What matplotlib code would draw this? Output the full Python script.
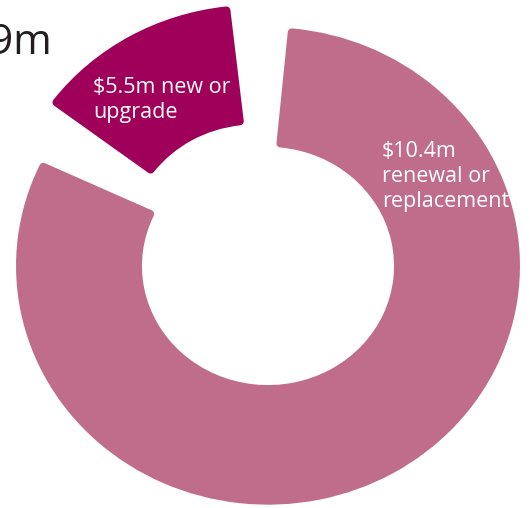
import matplotlib
matplotlib.use("Agg")
import matplotlib.pyplot as plt

# ---- data ----
categories = ["new or upgrade", "renewal or replacement"]
amounts_m = [5.5, 10.4]                  # $ millions, as labelled
arc_degrees = [58.5, 301.5]              # arc each slice occupies in the picture
explode = [0.108, 0.0]
colors = ["#9f005a", "#c06d8c"]
total_label = "$15.9m"

labels = [f"${amounts_m[0]}m new or\nupgrade",
          f"${amounts_m[1]}m\nrenewal or\nreplacement"]

plt.rcParams['font.family'] = ['Open Sans', 'DejaVu Sans']

fig = plt.figure(figsize=(5.30, 5.08), dpi=100)
ax = fig.add_axes([0, 0, 1, 1])

wedges, _ = ax.pie(arc_degrees, explode=explode, colors=colors,
                   startangle=90.5, counterclock=True, radius=1.0,
                   wedgeprops=dict(width=0.5, linewidth=0))

# angular gaps between the slices and rounded corners
gap_half = 5.0
round_px = 8
shrink = 0.016
for w, c in zip(wedges, colors):
    w.set_theta1(w.theta1 + gap_half + 1.0)
    w.set_theta2(w.theta2 - gap_half - 1.0)
    w.set_radius(1.0 - shrink)
    w.set_width(0.5 - 2 * shrink)
    w.set_edgecolor(c)
    w.set_linewidth(round_px * 72 / 100)
    w.set_joinstyle('round')

ax.set_aspect('auto')
ax.set_xlim(-1.0635, 1.0397)
ax.set_ylim(-1.0147, 1.1153)
ax.axis('off')

# va='baseline' anchors the last line's baseline
ax.text(-0.694, 0.6205, labels[0], color='white', fontsize=15.5,
        ha='left', va='baseline', linespacing=1.26)
ax.text(0.452, 0.247, labels[1], color='white', fontsize=15.5,
        ha='left', va='baseline', linespacing=1.26)
ax.text(-0.857, 0.889, total_label, color='#231f20', fontsize=30,
        ha='right', va='baseline')

fig.savefig("out.png", dpi=100, facecolor='white')
